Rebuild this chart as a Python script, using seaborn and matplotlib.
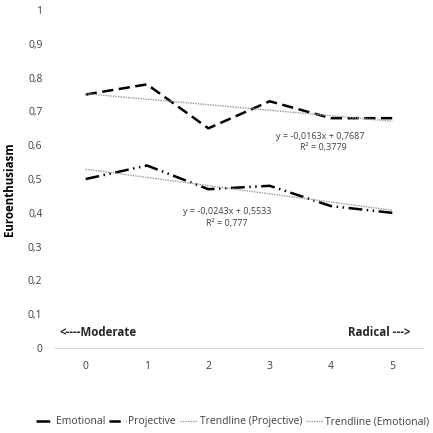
import numpy as np
import pandas as pd
import matplotlib
matplotlib.use("Agg")
import matplotlib.pyplot as plt
import seaborn as sns
from matplotlib.ticker import FuncFormatter

categories = [0, 1, 2, 3, 4, 5]
projective = [0.75, 0.78, 0.65, 0.73, 0.68, 0.68]
emotional = [0.50, 0.54, 0.47, 0.48, 0.42, 0.40]
yticks = [0, 0.1, 0.2, 0.3, 0.4, 0.5, 0.6, 0.7, 0.8, 0.9, 1]
eq_proj = ["y = -0,0163x + 0,7687", "R² = 0,3779"]
eq_emo = ["y = -0,0243x + 0,5533", "R² = 0,777"]

sns.set_theme(style="white")
plt.rcParams['font.family'] = ['Open Sans', 'DejaVu Sans']

fig = plt.figure(figsize=(4.33, 4.33), dpi=100)
ax = fig.add_axes([0.127, 0.196, 0.85, 0.781])

df = pd.DataFrame({"x": categories, "Projective": projective, "Emotional": emotional})

sns.lineplot(data=df, x="x", y="Emotional", ax=ax, color="black", lw=1.8,
             label="Emotional")
ax.lines[-1].set_dashes((5.5, 1.8, 0.6, 1.8, 0.6, 1.8))
sns.lineplot(data=df, x="x", y="Projective", ax=ax, color="black", lw=1.8,
             label="Projective")
ax.lines[-1].set_dashes((4.5, 2.2))

# Trendlines (Excel-style, x = 1..n)
xs = np.array(categories, dtype=float)
xe = xs + 1
pp = np.polyfit(xe, projective, 1)
pe = np.polyfit(xe, emotional, 1)
ax.plot(xs, np.polyval(pp, xe), color="#9a9a9a", lw=1.0, ls=(0, (1, 0.8)),
        label="Trendline (Projective)")
ax.plot(xs, np.polyval(pe, xe), color="#9a9a9a", lw=1.0, ls=(0, (1, 0.8)),
        label="Trendline (Emotional)")

ax.set_xlim(-0.5, 5.5)
ax.set_ylim(0, 1)
ax.set_yticks(yticks)
ax.yaxis.set_major_formatter(FuncFormatter(lambda v, p: ("%g" % round(v, 1)).replace(".", ",")))
ax.set_xticks(categories)
ax.tick_params(axis="both", length=0, labelsize=7.5, colors="#404040")
ax.tick_params(axis="x", pad=9)
ax.tick_params(axis="y", pad=9)

for s in ["left", "right", "top"]:
    ax.spines[s].set_visible(False)
ax.spines["bottom"].set_color("#d9d9d9")
ax.spines["bottom"].set_linewidth(0.8)

ax.set_xlabel("")
ax.set_ylabel("Euroenthusiasm", fontsize=8.3, fontweight="bold", color="black")
ax.yaxis.set_label_coords(-0.105, 0.47)

ax.text(-0.42, 0.045, "<----Moderate", fontsize=8.3, fontweight="bold", ha="left", va="center")
ax.text(5.3, 0.045, "Radical --->", fontsize=8.3, fontweight="bold", ha="right", va="center")

ax.text(3.83, 0.627, eq_proj[0], fontsize=6.5, ha="center", va="center", color="#404040")
ax.text(3.87, 0.592, eq_proj[1], fontsize=6.5, ha="center", va="center", color="#404040")
ax.text(2.3, 0.405, eq_emo[0], fontsize=6.5, ha="center", va="center", color="#404040")
ax.text(2.3, 0.370, eq_emo[1], fontsize=6.5, ha="center", va="center", color="#404040")

if ax.get_legend():
    ax.get_legend().remove()
handles, labels = ax.get_legend_handles_labels()
fig.legend(handles, labels, loc="center", bbox_to_anchor=(0.538, 0.026), ncol=4,
           frameon=False, fontsize=7.5, handlelength=1.6, handletextpad=0.25,
           columnspacing=0.4, labelcolor="#404040")

fig.savefig("out.png", dpi=100)
